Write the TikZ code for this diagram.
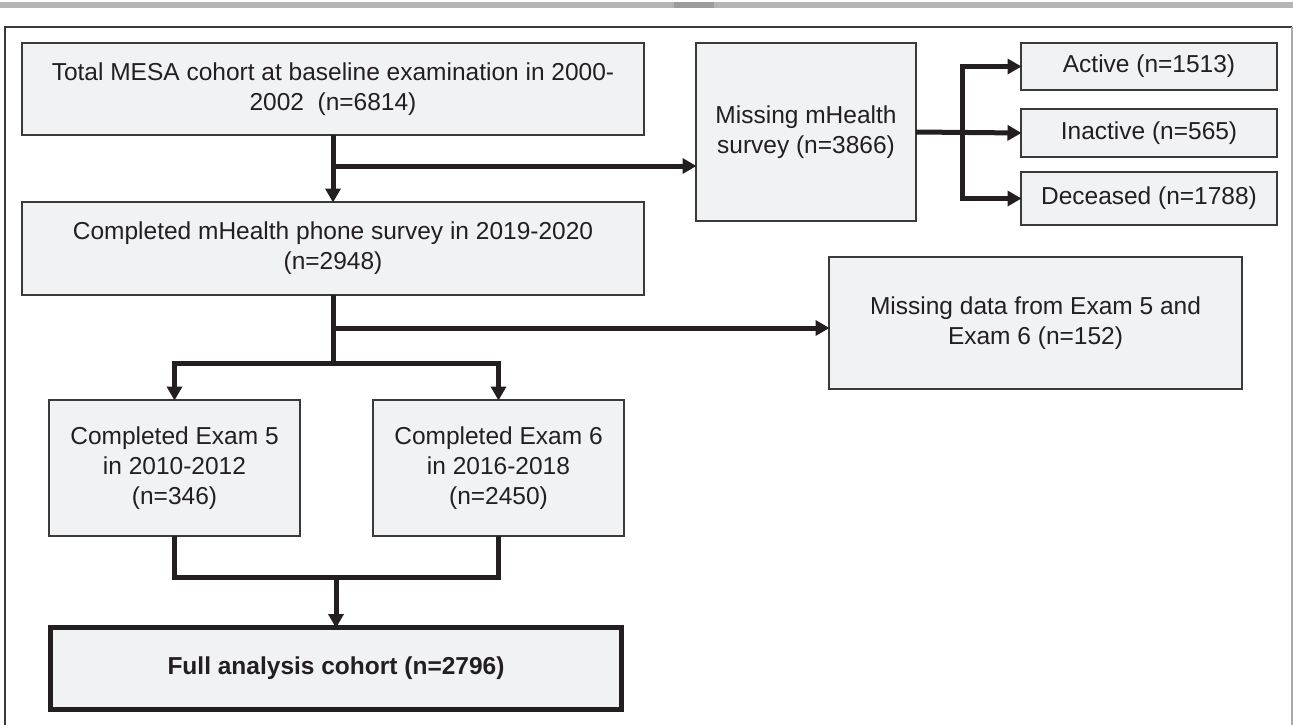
\documentclass[tikz,border=0pt]{standalone}
\usepackage{fontspec}
\setmainfont{Liberation Sans}
\usetikzlibrary{arrows.meta,calc}
\definecolor{boxfill}{HTML}{F1F2F4}
\definecolor{ink}{HTML}{231F20}
\definecolor{boxline}{HTML}{3A3A3A}
\definecolor{barcol}{HTML}{B4B4B4}
\definecolor{bardark}{HTML}{9C9C9C}
\definecolor{frameR}{HTML}{AAAAAA}
\tikzset{
  x=1pt, y=-1pt,
  box/.style={draw=boxline, line width=1.5pt, fill=boxfill, inner sep=0pt, outer sep=0pt,
              align=center, text=ink, font=\fontsize{24.5}{30}\selectfont},
  finalbox/.style={box, draw=ink, line width=5pt},
  conn/.style={draw=ink, line width=5pt, line join=miter},
  arr/.style={conn, -{Triangle[length=14pt,width=15pt]}, shorten >=-0.5pt},
}
\begin{document}
\begin{tikzpicture}
\useasboundingbox (0,0) rectangle (1293,725);
% top bar and frame
\fill[barcol] (0,2) rectangle (1293,8);
\fill[bardark] (674,2) rectangle (714,8);
\draw[boxline, line width=1.5pt] (5,725) -- (5,27) -- (1292,27);
\draw[frameR, line width=1.5pt] (1292,27) -- (1292,725);

% nodes
\node[box, minimum width=622pt, minimum height=92pt] (b1) at (333,89)
  {Total MESA cohort at baseline examination in 2000-\\2002\ \ (n=6814)};
\node[box, minimum width=220pt, minimum height=178pt] (mh) at (806,132)
  {Missing mHealth\\survey (n=3866)};
\node[box, minimum width=256pt, minimum height=47pt] (ac) at (1149,66.5) {Active (n=1513)};
\node[box, minimum width=256pt, minimum height=48pt] (in) at (1149,133) {Inactive (n=565)};
\node[box, minimum width=256pt, minimum height=53pt] (de) at (1149,198.5) {Deceased (n=1788)};
\node[box, minimum width=622pt, minimum height=93pt] (b2) at (333,248.5)
  {Completed mHealth phone survey in 2019-2020\\(n=2948)};
\node[box, minimum width=413pt, minimum height=132pt] (md) at (1035.5,323)
  {Missing data from Exam 5 and\\Exam 6 (n=152)};
\node[box, minimum width=251pt, minimum height=136pt] (e5) at (174.5,468)
  {Completed Exam 5\\in 2010-2012\\(n=346)};
\node[box, minimum width=251pt, minimum height=136pt] (e6) at (498.5,468)
  {Completed Exam 6\\in 2016-2018\\(n=2450)};
\node[finalbox, minimum width=571pt, minimum height=82pt] (fa) at (336,668.5)
  {\bfseries Full analysis cohort (n=2796)};

% connectors
\coordinate (j1) at (333,166);
\draw[arr] (b1.south) -- (b2.north);
\draw[arr] (j1) -- (j1 -| mh.west);

\coordinate (k) at (962,132);
\draw[arr] (mh.east) -- (in.west);
\draw[arr] (k) |- (ac.west);
\draw[arr] (k) |- (de.west);

\coordinate (j2) at (333,328);
\coordinate (s) at (333,363);
\draw[conn] (b2.south) -- (s);
\draw[arr] (j2) -- (j2 -| md.west);
\draw[arr] (s) -| (e5.north);
\draw[arr] (s) -| (e6.north);

\coordinate (m) at (336,577);
\draw[conn] (e5.south) |- (m) -| (e6.south);
\draw[arr] (m) -- (fa.north);
\end{tikzpicture}
\end{document}
